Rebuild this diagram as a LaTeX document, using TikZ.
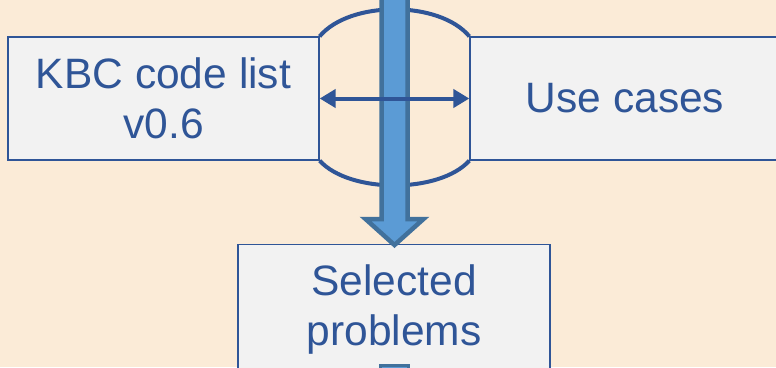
\documentclass[tikz,border=0pt]{standalone}
\usepackage{fontspec}
\setmainfont{Liberation Sans}
\usetikzlibrary{arrows.meta,calc}
\definecolor{bgbeige}{HTML}{FBEBD7}
\definecolor{boxfill}{HTML}{F2F2F2}
\definecolor{darkblue}{HTML}{2F5597}
\definecolor{arrowfill}{HTML}{5B9BD5}
\definecolor{arrowedge}{HTML}{41719C}
\tikzset{
  boxfont/.style={font=\fontsize{42.5}{50}\selectfont},
  infobox/.style={draw=darkblue, line width=1.3pt, fill=boxfill, text=darkblue,
    boxfont, align=center, inner sep=0pt},
  bracearc/.style={draw=darkblue, line width=4pt},
  link/.style={draw=darkblue, line width=4pt,
    {Triangle[length=16pt,width=18pt]}-{Triangle[length=16pt,width=18pt]}},
  flowarrow/.style={fill=arrowfill, draw=arrowedge, line width=4.5pt, line join=miter}
}
\begin{document}
\begin{tikzpicture}[x=1pt,y=-1pt]
  \fill[bgbeige] (0,0) rectangle (776,367);
  \useasboundingbox (0,0) rectangle (776,367);

  % the three boxes
  \node[infobox, minimum width=311pt, minimum height=123pt] (kbc) at (163.5,98.5)
    {KBC code list\\v0.6};
  \node[infobox, minimum width=310pt, minimum height=123pt] (uc) at (625,98.5)
    {Use cases};
  \node[infobox, minimum width=312pt, minimum height=160pt, anchor=north] (sel) at (394,244)
    {};
  \node[text=darkblue, boxfont, align=center, anchor=base]
    (seltext) at (394,345) {Selected\\problems};

  % arcs closing the gap between the two upper boxes
  \draw[bracearc] (kbc.north east) .. controls ($(kbc.north east)+(30,-36)$)
    and ($(uc.north west)+(-30,-36)$) .. (uc.north west);
  \draw[bracearc] (kbc.south east) .. controls ($(kbc.south east)+(30,33)$)
    and ($(uc.south west)+(-30,33)$) .. (uc.south west);

  % the broad downward arrow into the lower box
  \coordinate (top) at (394.5,-10);
  \coordinate (tip) at ($(sel.north)+(0.5,1)$);
  \draw[flowarrow] ($(top)+(-13,0)$) -- ($(tip)+(-13,-26)$) -- ($(tip)+(-29,-26)$)
    -- (tip) -- ($(tip)+(29,-26)$) -- ($(tip)+(13,-26)$) -- ($(top)+(13,0)$) -- cycle;

  % start of the next arrow below the lower box
  \coordinate (next) at (394,366);
  \fill[arrowfill] ($(next)+(-14,-1)$) rectangle ($(next)+(14,5)$);
  \draw[arrowedge, line width=3pt] ($(next)+(-14,5)$) -- ($(next)+(-14,-1)$)
    -- ($(next)+(14,-1)$) -- ($(next)+(14,5)$);

  % two-way link between the upper boxes
  \draw[link] (kbc.east) -- (uc.west);
\end{tikzpicture}
\end{document}
